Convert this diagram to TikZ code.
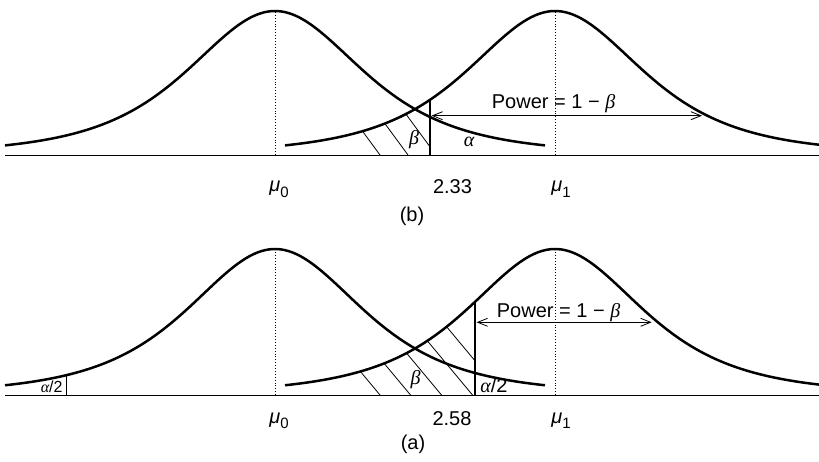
\documentclass[tikz,border=0pt]{standalone}
\usepackage{fontspec}
\setmainfont{Liberation Sans}
\newfontfamily\serifgr{Liberation Serif}
\usetikzlibrary{arrows.meta}
\newcommand{\mygbeta}{{\serifgr\itshape β}}
\newcommand{\mygalpha}{{\serifgr\itshape α}}
\newcommand{\mulab}[1]{{\itshape μ}\raisebox{-0.28em}{\fontsize{15}{15}\selectfont #1}}
\begin{document}
\begin{tikzpicture}[x=1pt,y=-1pt,
  declare function={dens(\d,\h)=\h/((1+(\d/159.35)^2)^2);},
  curve/.style={line width=2.5pt, line join=round},
  baseline/.style={line width=0.9pt},
  cut/.style={line width=2.4pt},
  thincut/.style={line width=0.9pt},
  hatch/.style={line width=0.8pt},
  guide/.style={dotted, line width=0.9pt},
  powarrow/.style={line width=0.8pt, {Straight Barb[length=10pt,width=8pt]}-{Straight Barb[length=10pt,width=8pt]}},
  lab/.style={font=\fontsize{20}{24}\selectfont, inner sep=0pt},
  smalllab/.style={font=\fontsize{16}{18}\selectfont, inner sep=0pt},
]
\useasboundingbox (0,0) rectangle (819,462);

% ---------------- panel (b) ----------------
\coordinate (bL) at (5,155);
\coordinate (bR) at (819,155);
\draw[baseline] (bL) -- (bR);
\draw[curve] plot[domain=5:545,samples=140] (\x,{155-dens(\x-275,144)});
\draw[curve] plot[domain=285:819,samples=140] (\x,{155-dens(\x-555,144)});
\begin{scope}
  \clip plot[domain=285:430,samples=80] (\x,{155-dens(\x-555,144)}) -- (430,155) -- (285,155) -- cycle;
  \foreach \c in {380,408,436} \draw[hatch] (\c,155) -- ++(-60,-81.6);
\end{scope}
\coordinate (bm0B) at (275,155); \coordinate (bm0T) at (275,11);
\coordinate (bm1B) at (555,155); \coordinate (bm1T) at (555,11);
\draw[guide] (bm0B) -- (bm0T);
\draw[guide] (bm1B) -- (bm1T);
\coordinate (bcB) at (430,155);
\coordinate (bcT) at (430,{155-dens(125,144)});
\draw[cut] (bcB) -- (bcT);
\coordinate (bpL) at (431.5,115.7);
\coordinate (bpR) at (702,115.7);
\draw[powarrow] (bpL) -- (bpR);
\node[lab,anchor=base west] (bpow) at (491.7,108.3) {Power = 1 − \mygbeta};
\node[lab] (balpha) at (469,141.7) {\mygalpha};
\node[lab] (bbeta) at (414,140) {\mygbeta};
\node[lab,anchor=base] (bmu0) at (279,192) {\mulab{0}};
\node[lab,anchor=base] (bmu1) at (561,192) {\mulab{1}};
\node[lab] (bcrit) at (452.5,187) {2.33};
\node[lab] (bcap) at (412,216) {(b)};

% ---------------- panel (a) ----------------
\coordinate (aL) at (5,395);
\coordinate (aR) at (819,395);
\draw[baseline] (aL) -- (aR);
\draw[curve] plot[domain=5:545,samples=140] (\x,{395-dens(\x-275,146)});
\draw[curve] plot[domain=285:819,samples=140] (\x,{395-dens(\x-555,146)});
\begin{scope}
  \clip plot[domain=285:475,samples=80] (\x,{395-dens(\x-555,146)}) -- (475,395) -- (285,395) -- cycle;
  \foreach \c in {380,410.5,441.5,472.5,503.5} \draw[hatch] (\c,395) -- ++(-90,-108);
\end{scope}
\coordinate (am0B) at (275,395); \coordinate (am0T) at (275,249);
\coordinate (am1B) at (555,395); \coordinate (am1T) at (555,249);
\draw[guide] (am0B) -- (am0T);
\draw[guide] (am1B) -- (am1T);
\coordinate (acB) at (475,395);
\coordinate (acT) at (475,{395-dens(80,146)});
\draw[cut] (acB) -- (acT);
\coordinate (alB) at (66.7,395);
\coordinate (alT) at (66.7,{395-dens(208.3,146)});
\draw[thincut] (alB) -- (alT);
\coordinate (apL) at (476.5,322.3);
\coordinate (apR) at (651.7,322.3);
\draw[powarrow] (apL) -- (apR);
\node[lab,anchor=base west] (apow) at (496.7,317.7) {Power = 1 − \mygbeta};
\node[lab] (abeta) at (415.5,380) {\mygbeta};
\node[lab] (aalphaR) at (494,385) {\mygalpha/2};
\node[smalllab] (aalphaL) at (51.7,386.7) {\mygalpha/2};
\node[lab,anchor=base] (amu0) at (279,423) {\mulab{0}};
\node[lab,anchor=base] (amu1) at (561,423) {\mulab{1}};
\node[lab] (acrit) at (452,418.3) {2.58};
\node[lab] (acap) at (413,444) {(a)};
\end{tikzpicture}
\end{document}
